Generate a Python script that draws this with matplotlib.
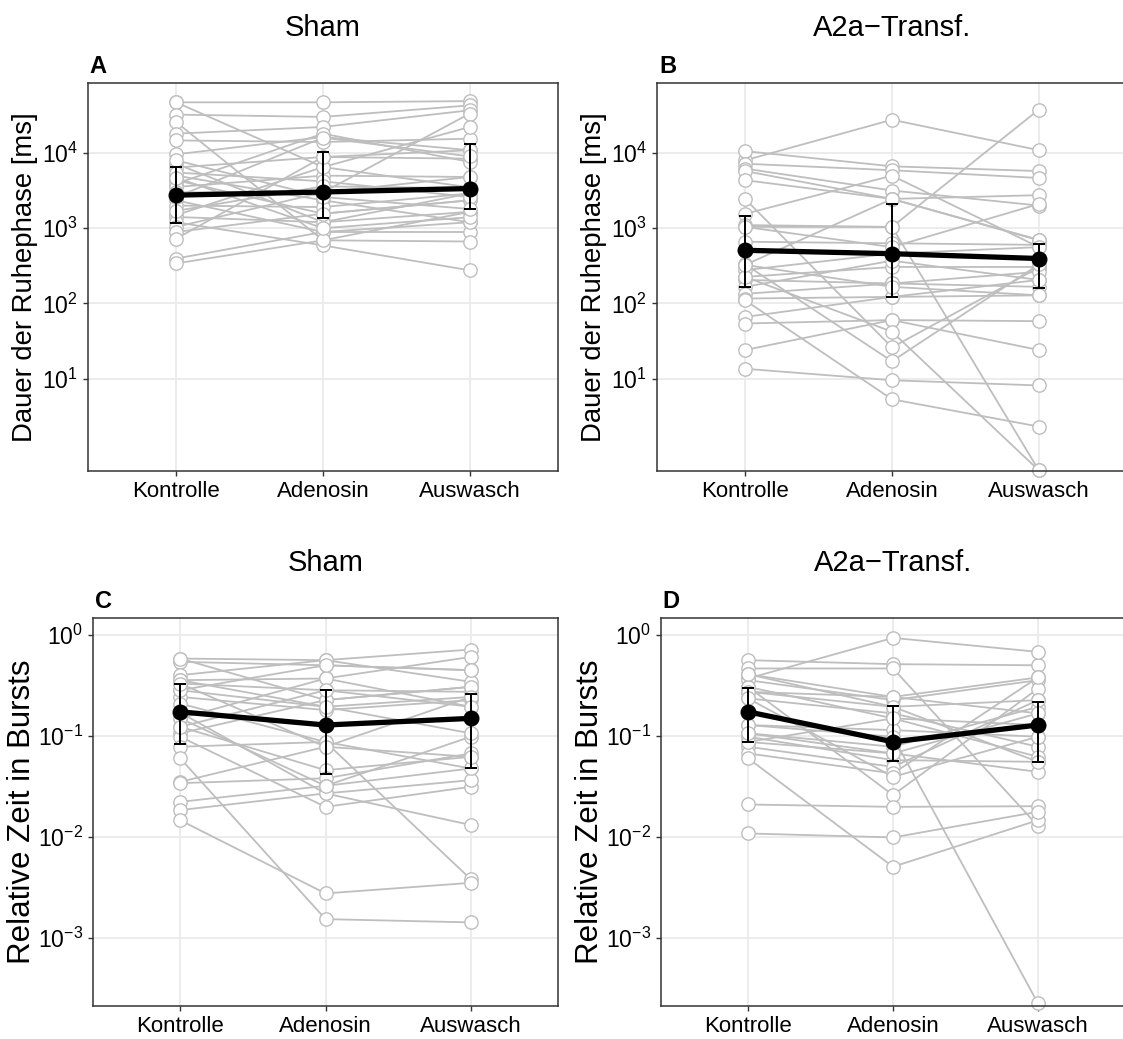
import matplotlib
matplotlib.use("Agg")
import matplotlib.pyplot as plt
from matplotlib.ticker import FixedLocator, FixedFormatter, NullLocator

plt.rcParams["font.family"] = ["Liberation Sans", "DejaVu Sans"]
plt.rcParams["mathtext.fontset"] = "custom"
plt.rcParams["mathtext.rm"] = "Liberation Sans"
plt.rcParams["mathtext.it"] = "Liberation Sans:italic"

conditions = ["Kontrolle", "Adenosin", "Auswasch"]

# Dauer der Ruhephase [ms], Sham (eine Position = ein Tier)
ruhe_sham_kontrolle = [47200, 47200, 32400, 25800, 18100, 14700, 9600, 7200, 6400, 5000, 4350, 3900,
                       3530, 3000, 2350, 2000, 1490, 1410, 1200, 1040, 890, 725, 395, 340,
                       5500, 2600, 1700, 4700, 8000]
ruhe_sham_adenosin = [47200, 6500, 30200, 690, 22200, 14000, 16300, 1200, 8850, 2350, 1560, 18100,
                      5000, 3000, 890, 1910, 6500, 1200, 590, 3000, 1560, 8850, 890, 690,
                      4200, 16000, 3600, 1000, 2600]
ruhe_sham_auswasch = [49000, 3500, 43000, 1650, 37000, 15500, 10900, 2900, 8400, 1200, 2350, 7600,
                      4800, 33500, 890, 2900, 22200, 1650, 275, 4800, 2350, 10900, 1200, 665,
                      2600, 9000, 3400, 1400, 1800]
ruhe_sham_median = [2750, 3030, 3370]
ruhe_sham_q1 = [1170, 1370, 1820]
ruhe_sham_q3 = [6600, 10300, 13300]

# Dauer der Ruhephase [ms], A2a-transfiziert
ruhe_a2a_kontrolle = [8000, 10600, 7200, 6200, 5750, 4350, 2450, 1550, 1040, 1100, 660, 325, 277, 225,
                      205, 166, 134, 116, 110, 66, 54, 24, 13.5, 225, 330, 1040, 325]
ruhe_a2a_adenosin = [27700, 6650, 5900, 3170, 2450, 2450, 26, 5000, 1040, 1040, 630, 2450, 460, 305,
                     184, 370, 184, 122, 5.3, 122, 60, 60, 9.5, 42, 17, 560, 166]
ruhe_a2a_auswasch = [10900, 5750, 4650, 2000, 2750, 690, 300, 560, 37800, 0.6, 600, 700, 560, 305,
                     263, 205, 166, 128, 2.3, 205, 58, 24, 8.1, 0.6, 330, 2100, 128]
ruhe_a2a_median = [508, 458, 395]
ruhe_a2a_q1 = [165, 122, 160]
ruhe_a2a_q3 = [1440, 2120, 624]

# Relative Zeit in Bursts, Sham
burst_sham_kontrolle = [0.583, 0.541, 0.583, 0.399, 0.356, 0.330, 0.283, 0.243, 0.209, 0.149, 0.123,
                        0.106, 0.098, 0.078, 0.060, 0.035, 0.034, 0.0222, 0.0184, 0.0146, 0.356,
                        0.283, 0.17, 0.149, 0.123, 0.330]
burst_sham_adenosin = [0.562, 0.50, 0.226, 0.562, 0.370, 0.283, 0.194, 0.180, 0.087, 0.370, 0.0457,
                       0.226, 0.0198, 0.087, 0.00153, 0.078, 0.038, 0.032, 0.0269, 0.00275, 0.194,
                       0.50, 0.0269, 0.032, 0.283, 0.078]
burst_sham_auswasch = [0.716, 0.447, 0.306, 0.343, 0.605, 0.273, 0.243, 0.226, 0.0475, 0.194, 0.062,
                       0.306, 0.0313, 0.0038, 0.00142, 0.243, 0.067, 0.098, 0.0364, 0.0035, 0.106,
                       0.447, 0.0131, 0.0475, 0.194, 0.062]
burst_sham_median = [0.173, 0.128, 0.149]
burst_sham_q1 = [0.0828, 0.0418, 0.0475]
burst_sham_q3 = [0.330, 0.283, 0.257]

# Relative Zeit in Bursts, A2a-transfiziert
burst_a2a_kontrolle = [0.562, 0.465, 0.370, 0.408, 0.356, 0.306, 0.273, 0.235, 0.306, 0.273, 0.128,
                       0.106, 0.098, 0.087, 0.078, 0.067, 0.060, 0.0209, 0.0108, 0.128, 0.235,
                       0.408, 0.087, 0.106]
burst_a2a_adenosin = [0.513, 0.465, 0.934, 0.243, 0.226, 0.0259, 0.194, 0.167, 0.149, 0.243, 0.114,
                      0.078, 0.0575, 0.067, 0.0493, 0.0424, 0.00505, 0.0198, 0.00986, 0.098, 0.0393,
                      0.194, 0.149, 0.067]
burst_a2a_auswasch = [0.50, 0.0128, 0.679, 0.379, 0.356, 0.294, 0.226, 0.078, 0.062, 0.167, 0.098,
                      0.194, 0.0553, 0.044, 0.226, 0.379, 0.0146, 0.0201, 0.0177, 0.000224, 0.098,
                      0.0553, 0.128, 0.167]
burst_a2a_median = [0.173, 0.0873, 0.128]
burst_a2a_q1 = [0.0873, 0.0562, 0.055]
burst_a2a_q3 = [0.301, 0.197, 0.216]

GREY = "#BEBEBE"
GRID = "#EBEBEB"
FRAME = "#333333"
W, H = 1123, 1039


def px_axes(fig, left, top, right, bottom):
    return fig.add_axes([left / W, 1 - bottom / H, (right - left) / W, (bottom - top) / H])


def draw_panel(ax, kontrolle, adenosin, auswasch, median, q1, q3, ylim, exponents, ylabel,
               label_size=19.8, label_pad=3):
    xs = list(range(1, len(conditions) + 1))
    for subject in zip(kontrolle, adenosin, auswasch):
        ax.plot(xs, subject, color=GREY, lw=1.3, zorder=2, clip_on=False)
    for subject in zip(kontrolle, adenosin, auswasch):
        ax.plot(xs, subject, ls="none", marker="o", ms=9.6, mfc="white", mec=GREY,
                mew=1.0, zorder=3, clip_on=False)
    ax.plot(xs, median, color="black", lw=3.8, zorder=4)
    err = [[m - lo for m, lo in zip(median, q1)], [hi - m for m, hi in zip(median, q3)]]
    ax.errorbar(xs, median, yerr=err, fmt="none", ecolor="black", elinewidth=1.4,
                capsize=4.6, capthick=1.4, zorder=5)
    ax.plot(xs, median, ls="none", marker="o", ms=10.5, color="black", zorder=6)

    ax.set_yscale("log")
    ax.set_ylim(*ylim)
    ax.set_xlim(0.4, 3.6)
    ax.yaxis.set_major_locator(FixedLocator([10.0 ** e for e in exponents]))
    ax.yaxis.set_major_formatter(FixedFormatter([r"$10^{%d}$" % e for e in exponents]))
    ax.yaxis.set_minor_locator(NullLocator())
    ax.set_xticks(xs)
    ax.set_xticklabels(conditions)

    ax.grid(True, color=GRID, lw=1.3, zorder=0)
    ax.set_axisbelow(True)
    for spine in ax.spines.values():
        spine.set_color(FRAME)
        spine.set_linewidth(1.1)
        spine.set_zorder(7)
    ax.tick_params(axis="both", which="major", length=3.6, width=1.0, color=FRAME,
                   labelcolor="black", pad=3.5)
    ax.tick_params(axis="x", labelsize=16)
    ax.tick_params(axis="y", labelsize=16.5)
    ax.set_ylabel(ylabel, fontsize=label_size, labelpad=label_pad)


fig = plt.figure(figsize=(W / 100, H / 100), dpi=100)

ax_a = px_axes(fig, 88, 83, 558, 471)
draw_panel(ax_a, ruhe_sham_kontrolle, ruhe_sham_adenosin, ruhe_sham_auswasch,
           ruhe_sham_median, ruhe_sham_q1, ruhe_sham_q3, (0.59, 85300), [1, 2, 3, 4],
           "Dauer der Ruhephase [ms]")
ax_b = px_axes(fig, 657, 83, 1127, 471)
draw_panel(ax_b, ruhe_a2a_kontrolle, ruhe_a2a_adenosin, ruhe_a2a_auswasch,
           ruhe_a2a_median, ruhe_a2a_q1, ruhe_a2a_q3, (0.59, 85300), [1, 2, 3, 4],
           "Dauer der Ruhephase [ms]")
ax_c = px_axes(fig, 93, 618, 558, 1006)
draw_panel(ax_c, burst_sham_kontrolle, burst_sham_adenosin, burst_sham_auswasch,
           burst_sham_median, burst_sham_q1, burst_sham_q3, (0.000211, 1.47), [-3, -2, -1, 0],
           "Relative Zeit in Bursts", label_size=22.5, label_pad=1)
ax_d = px_axes(fig, 661, 618, 1125, 1006)
draw_panel(ax_d, burst_a2a_kontrolle, burst_a2a_adenosin, burst_a2a_auswasch,
           burst_a2a_median, burst_a2a_q1, burst_a2a_q3, (0.000211, 1.47), [-3, -2, -1, 0],
           "Relative Zeit in Bursts", label_size=22.5, label_pad=1)

titles = ["Sham", "A2a\u2212Transf.", "Sham", "A2a\u2212Transf."]
tags = ["A", "B", "C", "D"]
for ax, title, tag in zip([ax_a, ax_b, ax_c, ax_d], titles, tags):
    ax.text(0.5, 1.142, title, transform=ax.transAxes, ha="center", va="center", fontsize=21)
    ax.text(0.004, 1.026, tag, transform=ax.transAxes, ha="left", va="baseline",
            fontsize=17, fontweight="bold")

fig.savefig("out.png", dpi=100)
